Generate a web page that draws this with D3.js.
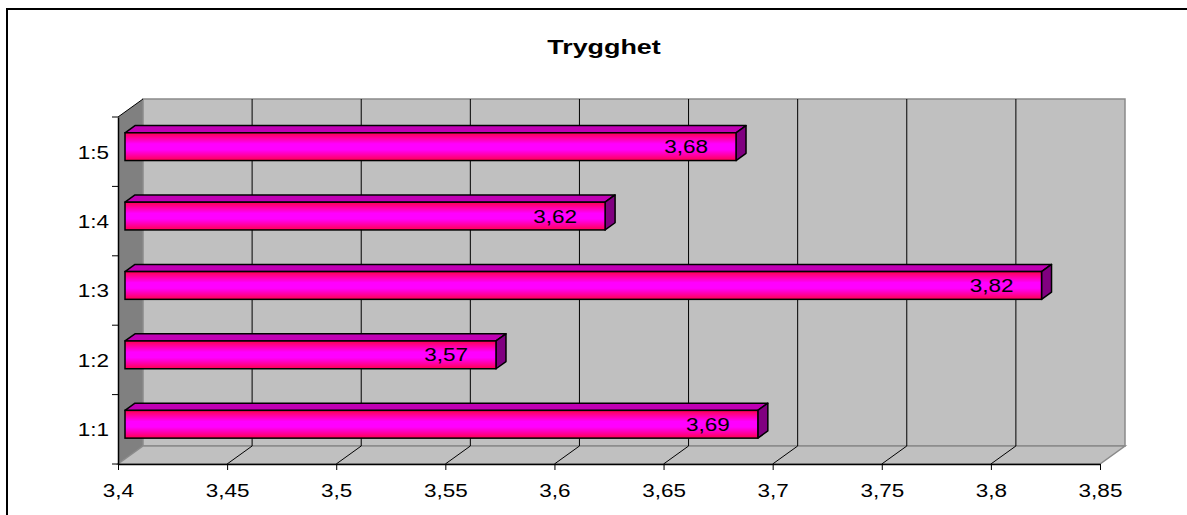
<!DOCTYPE html>
<html>
  <head>
    <meta charset="utf-8">
    <title>Trygghet</title>
    <script src="https://d3js.org/d3.v7.min.js"></script>
    <style>
      body { margin: 0; background: #fff; }
      text { font-family: "Liberation Sans", Arial, sans-serif; }
    </style>
  </head>
  <body>
    <script>
    var w = 1187, h = 515;

    var categories = ["1:5", "1:4", "1:3", "1:2", "1:1"];
    var values = [3.68, 3.62, 3.82, 3.57, 3.69];
    var tickValues = [3.4, 3.45, 3.5, 3.55, 3.6, 3.65, 3.7, 3.75, 3.8, 3.85];
    var title = "Trygghet";

    // front plane of the 3d box, and the depth offset of the back wall
    var plotL = 118, plotR = 1100, plotT = 117, plotB = 464;
    var depthX = 25, depthY = 18;
    var stretch = 1.25; // text in the picture is stretched sideways

    function fmt(d){ return String(+d.toFixed(2)).replace(".", ","); }

    var x = d3.scaleLinear().domain([3.4, 3.85]).range([plotL, plotR]);
    var y = d3.scaleBand().domain(categories).range([plotT, plotB])
      .paddingInner(0.6).paddingOuter(0.3);

    var svg = d3.select("body").append("svg")
      .attr("width", w).attr("height", h);

    // chart frame
    svg.append("rect")
      .attr("x", 7).attr("y", 9).attr("width", 1300).attr("height", 600)
      .attr("fill", "#fff").attr("stroke", "#000").attr("stroke-width", 2);

    svg.append("text")
      .attr("transform", "translate(604,54) scale(1.28,1)")
      .attr("text-anchor", "middle")
      .attr("font-size", "21px").attr("font-weight", "bold")
      .text(title);

    // walls
    svg.append("polygon")
      .attr("points", [[plotL, plotT], [plotL + depthX, plotT - depthY], [plotL + depthX, plotB - depthY], [plotL, plotB]].join(" "))
      .attr("fill", "#808080");
    svg.append("rect")
      .attr("x", plotL + depthX).attr("y", plotT - depthY)
      .attr("width", plotR - plotL).attr("height", plotB - plotT)
      .attr("fill", "#c0c0c0").attr("stroke", "#8a8a8a").attr("stroke-width", 1.5);
    svg.append("polygon")
      .attr("points", [[plotL, plotB], [plotL + depthX, plotB - depthY], [plotR + depthX, plotB - depthY], [plotR, plotB]].join(" "))
      .attr("fill", "#c0c0c0").attr("stroke", "#8a8a8a").attr("stroke-width", 1.5);
    svg.append("line")
      .attr("x1", plotL).attr("y1", plotT).attr("x2", plotL + depthX).attr("y2", plotT - depthY)
      .attr("stroke", "#000");

    // gridlines on back wall and floor
    var inner = tickValues.slice(1, -1);
    svg.selectAll("line.vgrid").data(inner).enter().append("line")
      .attr("class", "vgrid")
      .attr("x1", function(d){ return x(d) + depthX }).attr("x2", function(d){ return x(d) + depthX })
      .attr("y1", plotT - depthY).attr("y2", plotB - depthY)
      .attr("stroke", "#000").attr("stroke-width", 1);
    svg.selectAll("line.fgrid").data(inner).enter().append("line")
      .attr("class", "fgrid")
      .attr("x1", function(d){ return x(d) }).attr("y1", plotB)
      .attr("x2", function(d){ return x(d) + depthX }).attr("y2", plotB - depthY)
      .attr("stroke", "#000").attr("stroke-width", 1);

    // axes
    var xAxis = svg.append("g")
      .attr("transform", "translate(0," + plotB + ")")
      .call(d3.axisBottom(x).tickValues(tickValues).tickFormat(fmt)
        .tickSize(6).tickSizeOuter(0).tickPadding(14));
    xAxis.selectAll("text").attr("transform", "scale(" + stretch + ",1)")
      .attr("font-size", "18px").attr("fill", "#000");

    var yAxis = svg.append("g")
      .attr("transform", "translate(" + plotL + ",0)")
      .call(d3.axisLeft(y).tickSize(0).tickSizeOuter(0).tickPadding(9 / stretch));
    yAxis.selectAll("text").attr("transform", "scale(" + stretch + ",1)")
      .attr("font-size", "18px").attr("fill", "#000").attr("dy", "0.38em");
    svg.selectAll(".domain").attr("stroke", "#000").attr("stroke-width", 1.5);

    var step = y.step();
    var bounds = categories.map(function(c){ return y(c) - y.paddingInner() * step / 2 })
      .concat([plotB]);
    svg.selectAll("line.ytick").data(bounds).enter().append("line")
      .attr("class", "ytick")
      .attr("x1", plotL - 6).attr("x2", plotL)
      .attr("y1", function(d){ return d }).attr("y2", function(d){ return d })
      .attr("stroke", "#000");

    // bars
    var defs = svg.append("defs");
    var grad = defs.append("linearGradient").attr("id", "barGrad")
      .attr("x1", 0).attr("y1", 0).attr("x2", 0).attr("y2", 1);
    grad.append("stop").attr("offset", "0%").attr("stop-color", "#ff0050");
    grad.append("stop").attr("offset", "40%").attr("stop-color", "#ff00ff");
    grad.append("stop").attr("offset", "60%").attr("stop-color", "#ff00ff");
    grad.append("stop").attr("offset", "100%").attr("stop-color", "#ff0050");

    var fx = 0.28 * depthX, fy = 0.28 * depthY;  // front face depth
    var bx = 0.68 * depthX, by = 0.68 * depthY;  // back face depth
    var bw = y.bandwidth();

    var bars = svg.selectAll("g.bar")
      .data(categories.map(function(c, i){ return {cat: c, val: values[i]} }))
      .enter().append("g").attr("class", "bar");

    bars.append("polygon")
      .attr("points", function(d){
        var x0 = x(3.4), x1 = x(d.val), yt = y(d.cat);
        return [[x0 + fx, yt - fy], [x0 + bx, yt - by], [x1 + bx, yt - by], [x1 + fx, yt - fy]].join(" ");
      })
      .attr("fill", "#c000b4").attr("stroke", "#000").attr("stroke-width", 1.5)
      .attr("stroke-linejoin", "round");
    bars.append("polygon")
      .attr("points", function(d){
        var x1 = x(d.val), yt = y(d.cat), yb = yt + bw;
        return [[x1 + fx, yt - fy], [x1 + bx, yt - by], [x1 + bx, yb - by], [x1 + fx, yb - fy]].join(" ");
      })
      .attr("fill", "#800080").attr("stroke", "#000").attr("stroke-width", 1.5)
      .attr("stroke-linejoin", "round");
    bars.append("rect")
      .attr("x", x(3.4) + fx)
      .attr("y", function(d){ return y(d.cat) - fy })
      .attr("width", function(d){ return x(d.val) - x(3.4) })
      .attr("height", bw)
      .attr("fill", "url(#barGrad)").attr("stroke", "#000").attr("stroke-width", 1.5);

    bars.append("text")
      .attr("transform", function(d){
        return "translate(" + (x(d.val) + fx - 28) + "," + (y(d.cat) - fy + bw / 2) + ") scale(" + stretch + ",1)";
      })
      .attr("text-anchor", "end").attr("dy", "0.36em")
      .attr("font-size", "18px").attr("fill", "#000")
      .text(function(d){ return fmt(d.val) });
    </script>
  </body>
</html>
